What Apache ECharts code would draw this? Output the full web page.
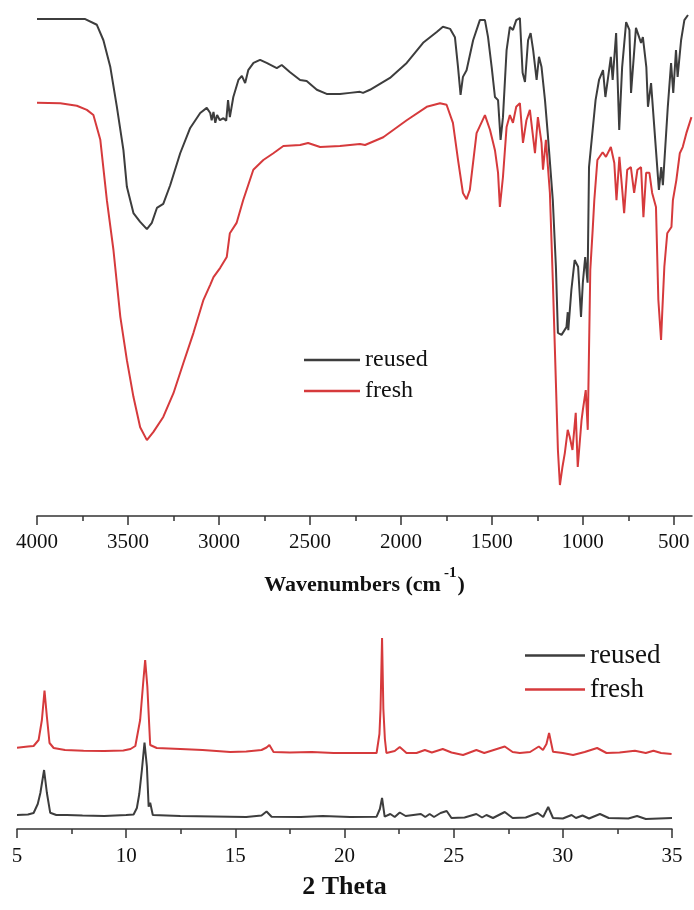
<!DOCTYPE html>
<html>
<head>
<meta charset="utf-8">
<script src="https://cdn.jsdelivr.net/npm/echarts@6/dist/echarts.min.js"></script>
<style>
html,body{margin:0;padding:0;background:#fff;}
#c{width:694px;height:910px;}
</style>
</head>
<body>
<div id="c"></div>
<script>
// ---------- DATA ----------
const seriesNames = ['reused', 'fresh'];

// FTIR: [wavenumber (cm-1), transmittance (a.u.)]
const ftirReused = [
[4000,96.3],[3735,96.3],[3671,95.2],[3635,92.2],[3597,87.0],[3561,79.3],[3525,70.9],[3506,63.8],
[3470,58.7],[3433,57.0],[3396,55.6],[3369,56.8],[3341,59.7],[3306,60.5],[3268,64.1],[3213,70.3],
[3158,75.2],[3103,78.1],[3067,79.1],[3048,78.1],[3040,76.7],[3030,78.3],[3020,76.2],[3010,77.7],
[2995,76.7],[2975,77.1],[2960,76.6],[2950,80.6],[2940,77.3],[2921,81.2],[2893,84.5],[2874,85.3],
[2856,83.9],[2839,86.4],[2810,87.8],[2774,88.4],[2738,87.8],[2682,86.8],[2655,87.4],[2609,86.0],
[2554,84.5],[2518,84.3],[2462,82.6],[2408,81.8],[2335,81.8],[2280,82.0],[2225,82.2],[2208,82.0],
[2170,82.6],[2060,84.9],[1968,87.8],[1878,91.7],[1803,93.8],[1769,94.8],[1729,94.4],[1703,92.8],
[1686,87.0],[1672,81.6],[1659,85.1],[1639,86.4],[1603,92.2],[1566,96.1],[1538,96.1],[1521,92.8],
[1501,87.0],[1483,81.2],[1466,80.6],[1452,72.9],[1439,77.3],[1419,90.3],[1401,94.8],[1384,94.2],
[1366,96.1],[1346,96.5],[1331,85.9],[1318,84.1],[1301,92.2],[1287,93.6],[1273,90.3],[1254,84.5],
[1241,89.0],[1227,87.0],[1208,80.6],[1193,74.2],[1165,61.2],[1148,48.3],[1137,35.5],[1117,35.1],
[1090,36.6],[1083,39.5],[1080,36.0],[1063,43.8],[1045,49.6],[1026,48.3],[1010,38.6],[1000,45.2],
[987,50.2],[974,45.2],[966,67.6],[930,80.6],[911,84.5],[889,86.4],[876,81.2],[863,84.5],
[846,89.0],[836,84.5],[817,93.6],[800,74.8],[784,87.0],[762,95.7],[744,94.2],[735,82.0],
[708,94.6],[680,91.7],[670,92.8],[651,87.0],[642,79.3],[625,83.9],[598,70.9],[582,63.2],
[569,67.6],[560,64.1],[533,79.3],[515,87.8],[503,82.0],[488,90.3],[479,85.1],[460,92.2],
[442,96.1],[422,97.1]
];
const ftirFresh = [
[4000,80.1],[3872,80.0],[3781,79.5],[3726,78.7],[3690,77.7],[3652,72.9],[3616,61.2],[3580,51.6],
[3542,38.6],[3506,30.2],[3470,23.1],[3433,17.2],[3396,14.7],[3360,16.3],[3306,19.2],[3250,23.8],
[3195,29.7],[3140,35.5],[3085,41.9],[3048,44.8],[3030,46.3],[2993,48.1],[2957,50.2],[2940,54.8],
[2903,56.8],[2867,61.2],[2811,67.1],[2756,69.0],[2701,70.3],[2646,71.7],[2554,71.9],[2510,72.3],
[2444,71.5],[2335,71.7],[2225,72.1],[2197,71.9],[2097,73.4],[1968,76.7],[1858,79.3],[1785,80.0],
[1749,79.7],[1714,76.2],[1686,69.0],[1659,62.6],[1639,61.4],[1621,63.2],[1584,74.2],[1538,77.7],
[1510,74.8],[1483,70.9],[1466,66.5],[1456,59.9],[1439,65.7],[1419,75.4],[1401,77.7],[1384,76.2],
[1366,79.3],[1346,80.0],[1329,72.3],[1310,76.7],[1291,78.7],[1276,74.2],[1263,70.3],[1247,77.3],
[1227,72.3],[1219,67.1],[1203,72.9],[1181,62.6],[1165,45.7],[1148,25.8],[1137,12.8],[1126,6.0],
[1112,9.5],[1099,12.2],[1083,16.7],[1072,15.3],[1057,12.8],[1039,20.0],[1028,9.5],[1007,18.6],
[1000,20.5],[984,24.4],[973,16.7],[959,47.7],[946,55.4],[937,61.2],[920,69.0],[891,70.5],
[873,69.6],[846,71.5],[827,68.4],[815,61.2],[799,69.6],[782,62.6],[773,58.7],[756,67.1],
[736,67.6],[718,62.6],[700,67.1],[680,67.6],[667,57.9],[652,66.5],[634,66.5],[619,62.6],
[598,59.9],[585,41.9],[570,34.1],[563,39.9],[552,48.3],[536,54.8],[513,56.0],[505,61.2],
[486,65.1],[467,70.3],[451,71.5],[431,74.2],[403,77.3]
];

// XRD: [2 theta (deg), intensity (a.u.)]
const xrdReused = [
[5.0,140],[5.5,145],[5.76,160],[5.95,250],[6.07,360],[6.24,590],[6.37,360],[6.52,163],[6.8,140],
[7.28,140],[8,135],[9,130],[10,140],[10.34,145],[10.49,210],[10.6,350],[10.72,590],[10.84,863],
[10.95,623],[11.03,223],[11.1,263],[11.22,140],[12.48,130],[14,125],[15.5,120],[16.2,135],
[16.43,175],[16.66,123],[18,120],[19,130],[20.26,120],[21.47,123],[21.62,200],[21.72,310],
[21.84,123],[22.1,150],[22.3,120],[22.53,165],[22.8,130],[23.5,150],[23.7,120],[23.9,150],
[24.1,120],[24.4,160],[24.68,180],[24.9,110],[25.5,115],[26.04,150],[26.3,115],[26.5,140],
[26.8,110],[27.34,170],[27.7,110],[28.3,115],[28.85,160],[29.1,120],[29.33,220],[29.55,110],
[30.0,105],[30.4,140],[30.6,110],[30.9,135],[31.2,105],[31.7,150],[32.1,110],[33.0,105],
[33.4,130],[33.8,100],[35,110]
];
const xrdFresh = [
[5.0,813],[5.5,825],[5.76,830],[5.99,890],[6.14,1090],[6.26,1383],[6.37,1120],[6.49,860],
[6.68,810],[7.2,790],[8.05,783],[9,780],[9.87,785],[10.2,800],[10.42,830],[10.64,1090],
[10.79,1490],[10.87,1690],[10.97,1423],[11.1,840],[11.4,810],[12.48,800],[13.5,790],[14.77,770],
[15.5,775],[16.2,790],[16.43,815],[16.56,840],[16.75,770],[17.5,765],[18.5,770],[19.5,760],
[20.26,760],[21.47,760],[21.6,950],[21.65,1200],[21.72,1910],[21.78,1200],[21.85,900],[21.92,760],
[22.3,780],[22.53,820],[22.84,760],[23.3,760],[23.68,790],[24.0,765],[24.5,800],[24.9,765],
[25.43,740],[26.04,790],[26.4,760],[27.34,825],[27.7,770],[28.03,760],[28.5,770],[28.9,825],
[29.09,790],[29.25,850],[29.37,960],[29.55,773],[30.0,760],[30.47,740],[31.0,770],[31.57,810],
[32.0,760],[32.6,765],[33.3,783],[33.8,760],[34.15,783],[34.5,760],[34.98,750]
];

// tick values
const ftirMajorTicks = [500,1000,1500,2000,2500,3000,3500,4000];
const ftirMinorTicks = [750,1250,1750,2250,2750,3250,3750];

// ---------- CHART ----------
const serif = 'Liberation Serif, Times New Roman, serif';
const cReused = '#3d3d3d';
const cFresh = '#d63a3c';
const axisColor = '#333';
const plain = v => String(v);

const chart = echarts.init(document.getElementById('c'), null, {renderer: 'canvas'});
chart.setOption({
  animation: false,
  backgroundColor: '#fff',
  grid: [
    {left: 37, right: 2, top: 0, bottom: 394},
    {left: 17, right: 22, top: 629, bottom: 81}
  ],
  xAxis: [
    {
      gridIndex: 0, type: 'value', min: 400, max: 4000, inverse: true, position: 'bottom',
      axisLine: {show: true, onZero: false, lineStyle: {color: axisColor, width: 1.5}},
      axisTick: {show: true, inside: false, length: 9, customValues: ftirMajorTicks, lineStyle: {color: axisColor, width: 1.5}},
      axisLabel: {show: true, customValues: ftirMajorTicks, formatter: plain, margin: 16, fontFamily: serif, fontSize: 21, color: '#111'},
      splitLine: {show: false},
      name: '{a|Wavenumbers (cm}{s|-1}{a|)}',
      nameLocation: 'middle', nameGap: 50,
      nameTextStyle: {
        rich: {
          a: {fontFamily: serif, fontWeight: 'bold', fontSize: 22, color: '#111', lineHeight: 30, verticalAlign: 'bottom'},
          s: {fontFamily: serif, fontWeight: 'bold', fontSize: 15, color: '#111', lineHeight: 30, verticalAlign: 'top', padding: [0, 1, 0, 3]}
        }
      }
    },
    {
      gridIndex: 0, type: 'value', min: 400, max: 4000, inverse: true, position: 'bottom',
      axisLine: {show: false, onZero: false},
      axisTick: {show: true, inside: false, length: 5, customValues: ftirMinorTicks, lineStyle: {color: axisColor, width: 1.5}},
      axisLabel: {show: false},
      splitLine: {show: false}
    },
    {
      gridIndex: 1, type: 'value', min: 5, max: 35, interval: 5, position: 'bottom',
      axisLine: {show: true, onZero: false, lineStyle: {color: axisColor, width: 1.5}},
      axisTick: {show: true, inside: false, length: 9, lineStyle: {color: axisColor, width: 1.5}},
      minorTick: {show: true, splitNumber: 2, length: 5, lineStyle: {color: axisColor, width: 1.5}},
      axisLabel: {show: true, formatter: plain, margin: 17, fontFamily: serif, fontSize: 21, color: '#111'},
      splitLine: {show: false},
      minorSplitLine: {show: false},
      name: '2 Theta', nameLocation: 'middle', nameGap: 45,
      nameTextStyle: {fontFamily: serif, fontWeight: 'bold', fontSize: 26, color: '#111'}
    }
  ],
  yAxis: [
    {gridIndex: 0, type: 'value', min: 0, max: 100, show: false},
    {gridIndex: 1, type: 'value', min: 0, max: 2000, show: false}
  ],
  legend: [
    {
      data: seriesNames, orient: 'vertical', left: 299, top: 343,
      icon: 'rect', itemWidth: 56, itemHeight: 2.5, itemGap: 7,
      textStyle: {fontFamily: serif, fontSize: 24, lineHeight: 24, color: '#111'}
    },
    {
      data: seriesNames, orient: 'vertical', left: 520, top: 637,
      icon: 'rect', itemWidth: 60, itemHeight: 2.5, itemGap: 7,
      textStyle: {fontFamily: serif, fontSize: 27, lineHeight: 27, color: '#111'}
    }
  ],
  series: [
    {name: 'reused', type: 'line', xAxisIndex: 0, yAxisIndex: 0, data: ftirReused, showSymbol: false, symbol: 'none', lineStyle: {color: cReused, width: 2}, itemStyle: {color: cReused}},
    {name: 'fresh', type: 'line', xAxisIndex: 0, yAxisIndex: 0, data: ftirFresh, showSymbol: false, symbol: 'none', lineStyle: {color: cFresh, width: 2}, itemStyle: {color: cFresh}},
    {name: 'reused', type: 'line', xAxisIndex: 2, yAxisIndex: 1, data: xrdReused, showSymbol: false, symbol: 'none', lineStyle: {color: cReused, width: 2}, itemStyle: {color: cReused}},
    {name: 'fresh', type: 'line', xAxisIndex: 2, yAxisIndex: 1, data: xrdFresh, showSymbol: false, symbol: 'none', lineStyle: {color: cFresh, width: 2}, itemStyle: {color: cFresh}}
  ]
});
</script>
</body>
</html>
